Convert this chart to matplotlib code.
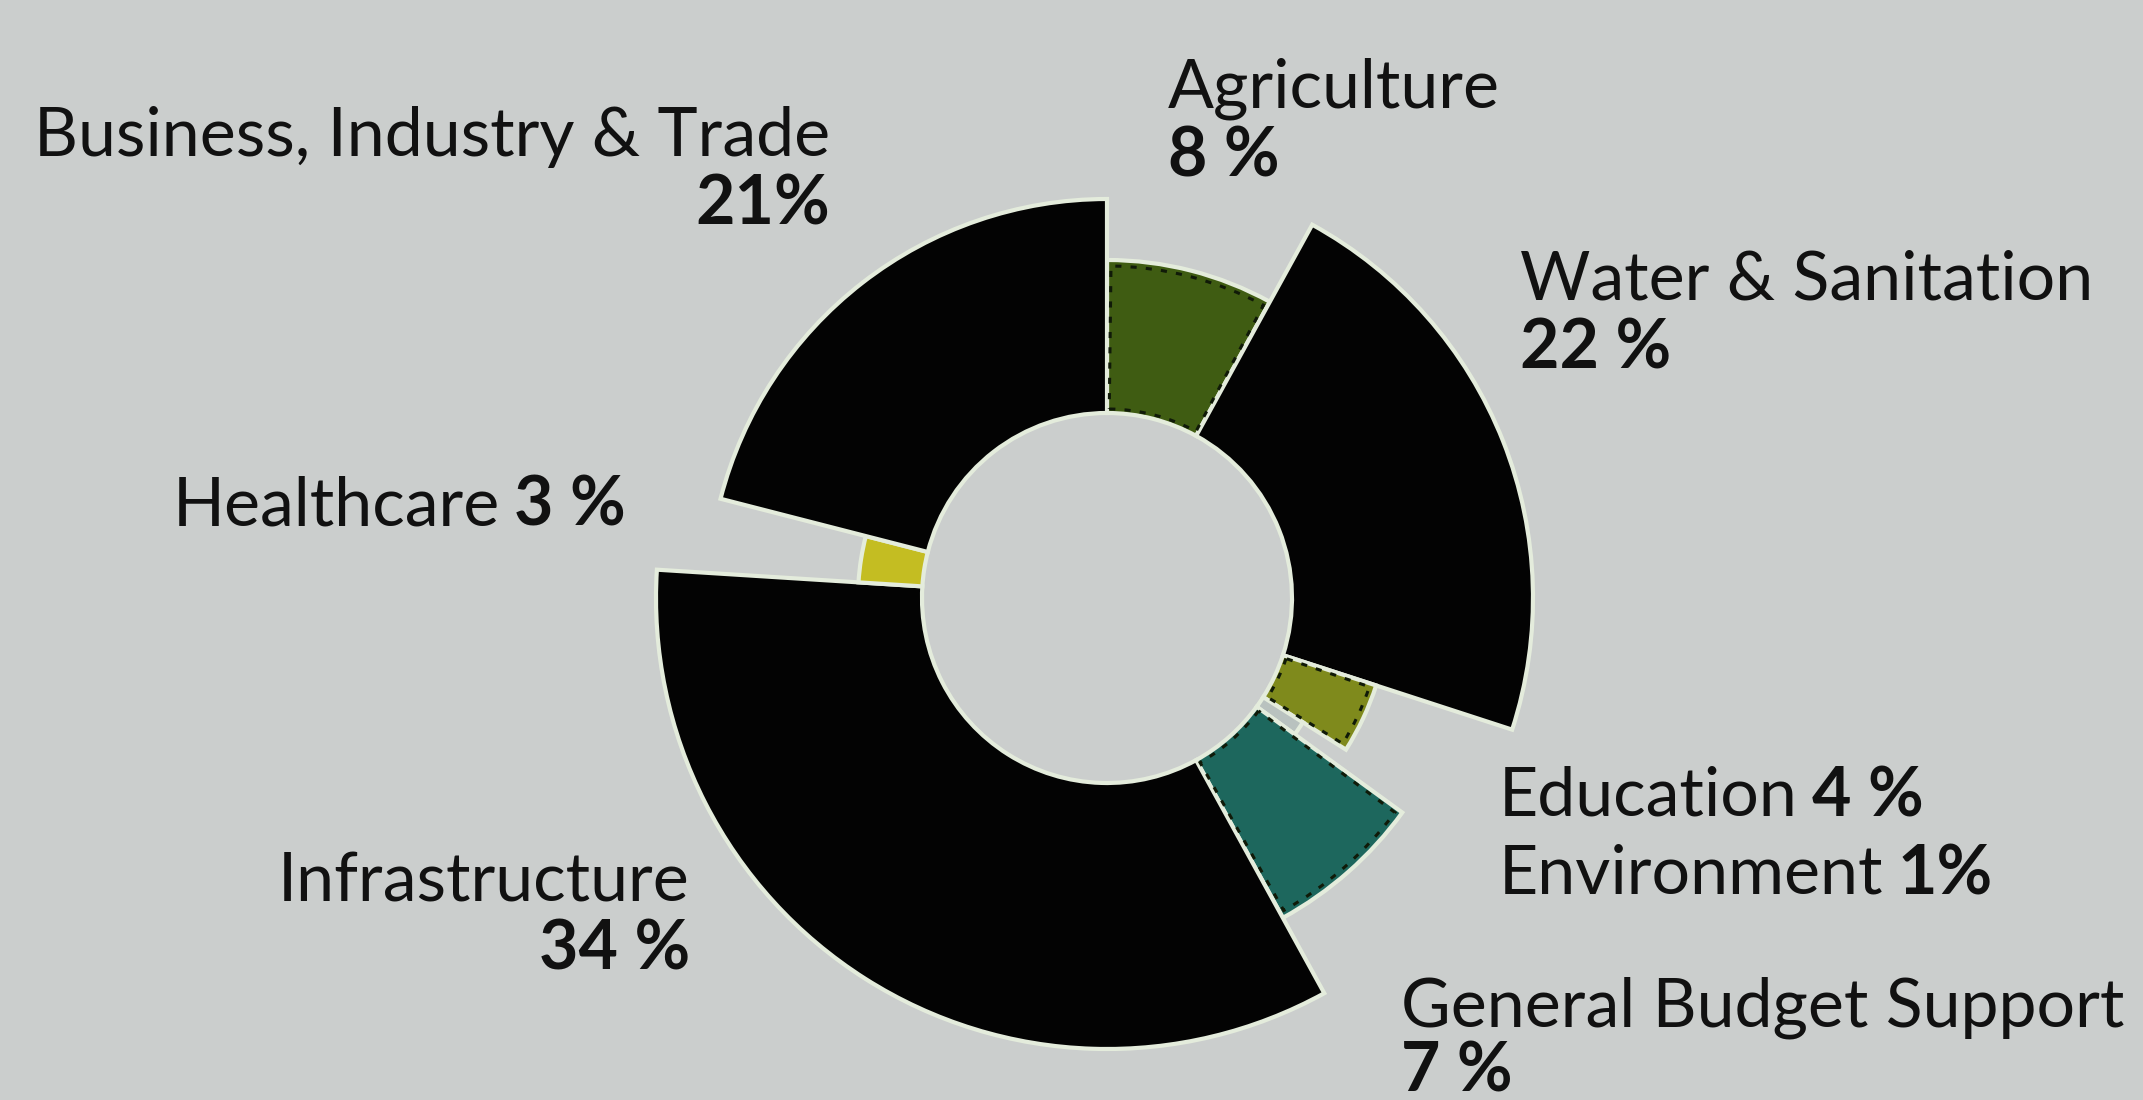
import numpy as np
import matplotlib
matplotlib.use("Agg")
import matplotlib.pyplot as plt

# sector shares (percent), clockwise from 12 o'clock
sectors = ["Agriculture", "Water & Sanitation", "Education", "Environment",
           "General Budget Support", "Infrastructure", "Healthcare",
           "Business, Industry & Trade"]
shares = [8, 22, 4, 1, 7, 34, 3, 21]
outer_radius = [338, 426, 283, 232, 365, 451, 249, 399]
colors = ["#3f5c12", "#030303", "#7f8a1c", "#b9c2bf", "#1d675d", "#030303",
          "#c4bd22", "#030303"]
inner_radius = 185

bg = "#cbcecd"
plt.rcParams["font.family"] = ["Lato", "DejaVu Sans"]

fig = plt.figure(figsize=(21.43, 11), dpi=100, facecolor=bg)
ax = fig.add_axes([607 / 2143, 2 / 1100, 1000 / 2143, 1000 / 1100],
                  projection="polar")
ax.set_facecolor("none")
ax.set_theta_zero_location("N")
ax.set_theta_direction(-1)

frac = np.array(shares) / sum(shares)
widths = frac * 2 * np.pi
starts = np.concatenate([[0], np.cumsum(widths)[:-1]])
heights = np.array(outer_radius) - inner_radius

ax.bar(starts, heights, width=widths, bottom=inner_radius, align="edge",
       color=colors, edgecolor="#e4ecdc", linewidth=3)

# dark dotted rim inside the coloured wedges
for i in (0, 2, 4):
    pad = 0.012
    ax.bar(starts[i] + pad, heights[i] - 10, width=widths[i] - 2 * pad,
           bottom=inner_radius + 4, align="edge", facecolor="none",
           edgecolor="#101a08", linewidth=2.2, linestyle=(0, (2, 3)))

ax.set_rlim(0, 500)
ax.set_axis_off()

# labels
fs = 49
lab = dict(fontsize=fs, color="#111111")
bold = dict(fontsize=fs, color="#111111", fontweight="bold")


def put(x, y, s, ha, style):
    return fig.text(x / 2143, 1 - y / 1100, s, ha=ha, va="center", **style)


put(1168, 89, "Agriculture", "left", lab)
put(1168, 157, "8 %", "left", bold)
put(830, 137, "Business, Industry & Trade", "right", lab)
put(830, 205, "21%", "right", bold)
put(1520, 280, "Water & Sanitation", "left", lab)
put(1520, 349, "22 %", "left", bold)
hc = put(626, 506, "3 %", "right", bold)
edu = put(1499, 797, "Education", "left", lab)
env = put(1499, 875, "Environment", "left", lab)
put(1401, 1008, "General Budget Support", "left", lab)
put(1401, 1072, "7 %", "left", bold)
put(690, 882, "Infrastructure", "right", lab)
put(690, 950, "34 %", "right", bold)

fig.canvas.draw()
r = fig.canvas.get_renderer()
bb = hc.get_window_extent(r)
fig.text((bb.x0 - 14) / 2143, hc.get_position()[1], "Healthcare",
         ha="right", va="center", **lab)
for t, s in ((edu, "4 %"), (env, "1%")):
    bb = t.get_window_extent(r)
    fig.text((bb.x1 + 14) / 2143, t.get_position()[1], s,
             ha="left", va="center", **bold)

fig.savefig("out.png", dpi=100, facecolor=bg)
